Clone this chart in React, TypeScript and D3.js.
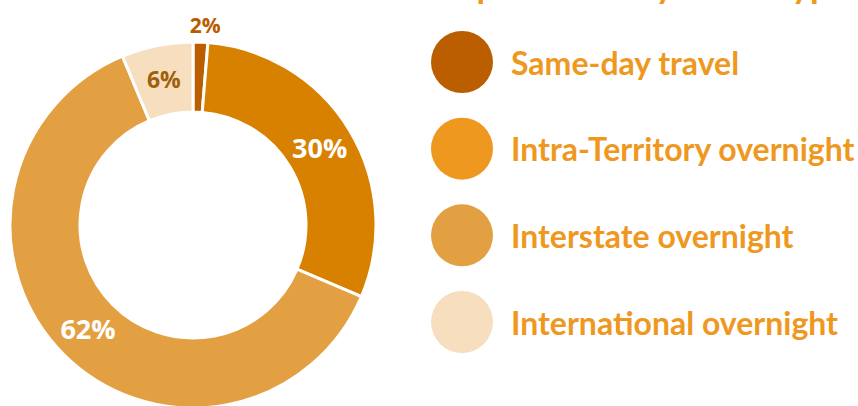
import React from "react";
import * as d3 from "d3";

const categories = ["Same-day travel", "Intra-Territory overnight", "Interstate overnight", "International overnight"];
const values = [1.3, 30.1, 62.3, 6.3];
const labels = ["2%", "30%", "62%", "6%"];
const sliceColors = ["#BA5E00", "#D88000", "#E2A042", "#F6DEBF"];
const legendColors = ["#BA5E00", "#EE981F", "#E2A042", "#F6DEBF"];
const labelColors = ["#B85C00", "#FFFFFF", "#FFFFFF", "#A0600A"];
const labelSizes = [21, 27, 27, 23];
const titleText = "Expenditure by travel type";

export default function App() {
  const W = 858, H = 406;
  const cx = 193, cy = 225, rOuter = 183, rInner = 113;
  const pie = d3.pie<number>().sort(null).value((d) => d)(values);
  const arc = d3.arc<d3.PieArcDatum<number>>().innerRadius(rInner).outerRadius(rOuter);
  const outLabelArc = d3.arc<d3.PieArcDatum<number>>().innerRadius(200).outerRadius(200);
  const legendY = d3.scalePoint<string>().domain(categories).range([62, 322]);
  return (
    <svg width={W} height={H} style={{ position: "absolute", left: 0, top: 0 }}>
      <rect width={W} height={H} fill="#fff" />
      <text x={438} y={-2} fontFamily="Lato" fontWeight={700} fontSize={35} fill="#EE981F">{titleText}</text>
      <g transform={`translate(${cx},${cy})`}>
        {pie.map((p, i) => (
          <path key={i} d={arc(p) || ""} fill={sliceColors[i]} stroke="#fff" strokeWidth={3} />
        ))}
        {pie.map((p, i) => {
          const [x, y] = i === 0 ? outLabelArc.centroid(p) : arc.centroid(p);
          return (
            <text key={"l" + i} x={x + (i === 0 ? 4 : 0)} y={y} dy="0.36em" textAnchor="middle" fontFamily="Open Sans" fontWeight={700}
              fontSize={labelSizes[i]} fill={labelColors[i]}>{labels[i]}</text>
          );
        })}
      </g>
      {categories.map((c, i) => (
        <g key={c} transform={`translate(0,${legendY(c)})`}>
          <circle cx={462} cy={0} r={31} fill={legendColors[i]} />
          <text x={511} y={0} dy="0.4em" fontFamily="Lato" fontWeight={700} fontSize={32} fill="#EE981F">{c}</text>
        </g>
      ))}
    </svg>
  );
}
